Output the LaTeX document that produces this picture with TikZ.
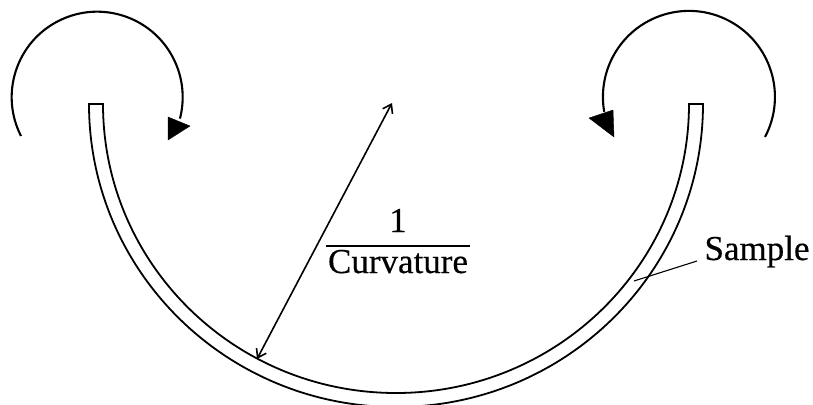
\documentclass[tikz,border=0pt]{standalone}
\usepackage{fontspec}
\setmainfont{Liberation Serif}
\newfontfamily\lblfont[FakeBold=0.35]{Liberation Serif}
\usetikzlibrary{arrows.meta}
\tikzset{
  x=1pt,y=1pt,
  sampleline/.style={line width=1.8pt,line join=miter},
  turn/.style={line width=2.1pt},
  head/.style={fill=black,draw=black,line width=0.4pt},
  radius line/.style={line width=1.6pt,{Straight Barb[length=8pt,width=11pt,line width=1.6pt]}-{Straight Barb[length=8pt,width=11pt,line width=1.6pt]}},
  leader/.style={line width=1.1pt},
  bar/.style={line width=1.5pt},
  lbl/.style={inner sep=0pt,anchor=base,font=\lblfont\fontsize{35}{40}\selectfont}
}
\begin{document}
\begin{tikzpicture}
\useasboundingbox (0,-404) rectangle (813,0);
\clip (0,-404) rectangle (813,0);
\fill[white] (0,-404) rectangle (813,0);
% sample strip
\draw[sampleline] (89,-104) arc[start angle=180,end angle=360,x radius=307pt,y radius=303pt]
  -- (689,-104) arc[start angle=360,end angle=180,x radius=293pt,y radius=289pt] -- cycle;
% turning arrows
\draw[turn] (21,-136) arc[start angle=207,end angle=-14.5,radius=85.5pt];
\fill[head] (168,-117) -- (168,-140) -- (190,-126) -- cycle;
\draw[turn] (765,-137) arc[start angle=-27.8,end angle=190,radius=86pt];
\fill[head] (589,-118) -- (613,-110) -- (614,-137) -- cycle;
% radius
\coordinate (centre) at (392,-103);
\coordinate (rim) at (257,-359);
\draw[radius line] (rim) -- (centre);
% fraction
\node[lbl] (one) at (398,-232) {1};
\node[lbl] (curv) at (398,-273) {Curvature};
\coordinate (barL) at (326,-246);
\coordinate (barR) at (470,-246);
\draw[bar] (barL) -- (barR);
% sample label
\node[lbl] (sample) at (757,-260) {Sample};
\coordinate (sampleEnd) at (634,-281);
\coordinate (sampleStart) at (697,-261);
\draw[leader] (sampleStart) -- (sampleEnd);
\end{tikzpicture}
\end{document}
